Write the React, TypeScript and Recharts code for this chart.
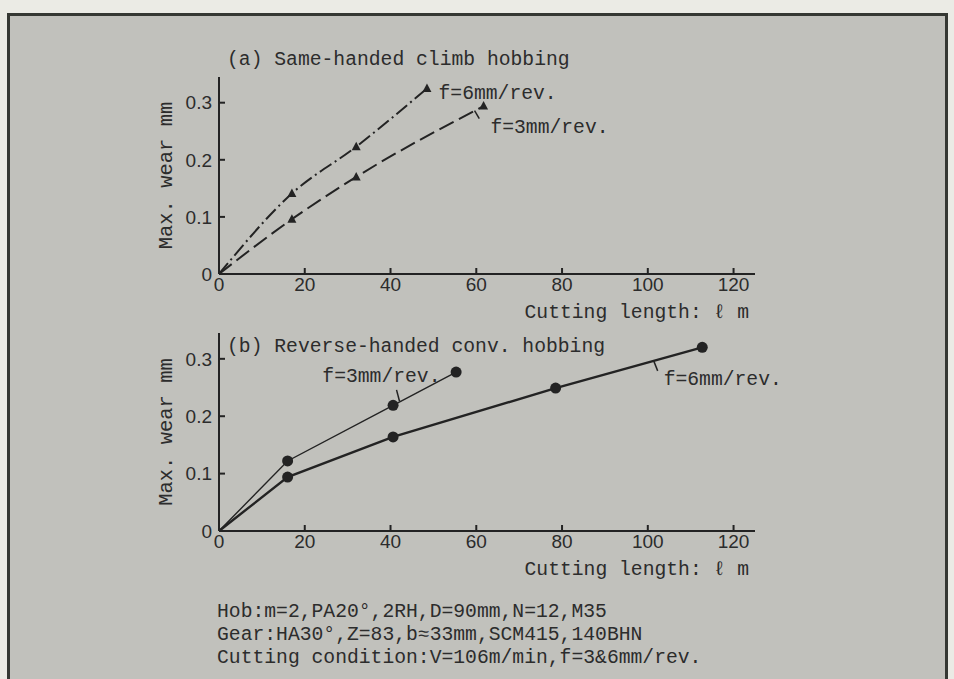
import React from "react";
import {
  Line,
  LineChart,
  ReferenceDot,
  ReferenceLine,
  XAxis,
  YAxis,
} from "recharts";

// (a) Same-handed climb hobbing — cutting length (m) / max. wear (mm)
const climb6X = [0, 17, 32, 48.5];
const climb6Y = [0, 0.141, 0.223, 0.325];
const climb3X = [0, 17, 32, 61.7];
const climb3Y = [0, 0.096, 0.17, 0.294];

// (b) Reverse-handed conventional hobbing
const conv3X = [0, 16, 40.6, 55.3];
const conv3Y = [0, 0.122, 0.219, 0.277];
const conv6X = [0, 16, 40.6, 78.5, 112.7];
const conv6Y = [0, 0.094, 0.164, 0.249, 0.32];

const xTicks = [0, 20, 40, 60, 80, 100, 120];
const yTicks = [0, 0.1, 0.2, 0.3];

const noteLines = [
  "Hob:m=2,PA20°,2RH,D=90mm,N=12,M35",
  "Gear:HA30°,Z=83,b≈33mm,SCM415,140BHN",
  "Cutting condition:V=106m/min,f=3&6mm/rev.",
];

const INK = "#232323";
const TEXT = "#2c2c2c";
const MONO = "'Liberation Mono', 'DejaVu Sans Mono', monospace";
const SANS = "'Liberation Sans', Arial, sans-serif";

const zip = (xs: number[], ys: number[]) => xs.map((x, i) => ({ x, y: ys[i] }));

const axisCommon = {
  stroke: INK,
  strokeWidth: 2,
  tickSize: -6,
  tick: { fill: TEXT, fontSize: 19, fontFamily: SANS },
};

const fmtY = (v: number) => (v === 0 ? "0" : v.toFixed(1));

function TriangleDot(props: any) {
  const { cx, cy, index } = props;
  if (index === 0 || cx == null) return <g key={`t-${index}`} />;
  return (
    <path
      key={`t-${index}`}
      d={`M${cx},${cy - 5} L${cx + 4.5},${cy + 3.5} L${cx - 4.5},${cy + 3.5} Z`}
      fill={INK}
    />
  );
}

function CircleDot(props: any) {
  const { cx, cy, index } = props;
  if (index === 0 || cx == null) return <g key={`c-${index}`} />;
  return <circle key={`c-${index}`} cx={cx} cy={cy} r={5.5} fill={INK} />;
}

const noteLabel = (value: string) => ({
  value,
  position: "right" as const,
  offset: 0,
  fill: TEXT,
  fontSize: 19.7,
  fontFamily: MONO,
});

const chartMargin = { top: 37, right: 45, left: 159, bottom: 6 };

function PanelAxes() {
  return [
    <XAxis
      key="x"
      type="number"
      dataKey="x"
      domain={[0, 125]}
      ticks={xTicks}
      allowDuplicatedCategory={false}
      height={50}
      tickMargin={10}
      {...axisCommon}
      label={{
        value: "Cutting length: ℓ m",
        position: "insideBottomRight",
        offset: 6,
        fill: TEXT,
        fontSize: 19.7,
        fontFamily: MONO,
      }}
    />,
    <YAxis
      key="y"
      type="number"
      dataKey="y"
      domain={[0, 0.345]}
      ticks={yTicks}
      tickFormatter={fmtY}
      width={60}
      tickMargin={13}
      {...axisCommon}
      label={{
        value: "Max. wear mm",
        angle: -90,
        position: "insideLeft",
        offset: 6,
        fill: TEXT,
        fontSize: 20.5,
        fontFamily: MONO,
        style: { textAnchor: "middle" },
      }}
    />,
  ];
}

const titleStyle: React.CSSProperties = {
  position: "absolute",
  left: 227,
  fontFamily: MONO,
  fontSize: 19.7,
  lineHeight: "22px",
  color: TEXT,
  whiteSpace: "pre",
};

export default function App() {
  return (
    <div
      style={{
        position: "absolute",
        left: 0,
        top: 0,
        width: 954,
        height: 679,
        overflow: "hidden",
        background: "#ebebe5",
      }}
    >
      <div
        style={{
          position: "absolute",
          left: 7,
          top: 13,
          width: 935,
          height: 700,
          border: "3px solid #353833",
          background: "#c1c1bc",
        }}
      />

      <div style={{ position: "absolute", left: 0, top: 40 }}>
        <LineChart width={800} height={290} margin={chartMargin}>
          {PanelAxes()}
          <Line
            data={zip(climb6X, climb6Y)}
            dataKey="y"
            type="monotone"
            stroke={INK}
            strokeWidth={2}
            strokeDasharray="14 4 2 4"
            dot={TriangleDot}
            activeDot={false}
            isAnimationActive={false}
          />
          <Line
            data={zip(climb3X, climb3Y)}
            dataKey="y"
            type="monotone"
            stroke={INK}
            strokeWidth={2}
            strokeDasharray="16 6"
            dot={TriangleDot}
            activeDot={false}
            isAnimationActive={false}
          />
          <ReferenceLine
            segment={[
              { x: 59.6, y: 0.286 },
              { x: 60.7, y: 0.272 },
            ]}
            stroke={INK}
            strokeWidth={1.5}
          />
          <ReferenceDot x={51.2} y={0.318} r={0} stroke="none" label={noteLabel("f=6mm/rev.")} />
          <ReferenceDot x={63.3} y={0.26} r={0} stroke="none" label={noteLabel("f=3mm/rev.")} />
        </LineChart>
      </div>

      <div style={{ position: "absolute", left: 0, top: 296 }}>
        <LineChart width={800} height={291} margin={chartMargin}>
          {PanelAxes()}
          <Line
            data={zip(conv3X, conv3Y)}
            dataKey="y"
            type="linear"
            stroke={INK}
            strokeWidth={1.4}
            dot={CircleDot}
            activeDot={false}
            isAnimationActive={false}
          />
          <Line
            data={zip(conv6X, conv6Y)}
            dataKey="y"
            type="linear"
            stroke={INK}
            strokeWidth={2.4}
            dot={CircleDot}
            activeDot={false}
            isAnimationActive={false}
          />
          <ReferenceLine
            segment={[
              { x: 41.4, y: 0.246 },
              { x: 42.1, y: 0.226 },
            ]}
            stroke={INK}
            strokeWidth={1.5}
          />
          <ReferenceLine
            segment={[
              { x: 101.4, y: 0.296 },
              { x: 102.3, y: 0.279 },
            ]}
            stroke={INK}
            strokeWidth={1.5}
          />
          <ReferenceDot x={24.1} y={0.272} r={0} stroke="none" label={noteLabel("f=3mm/rev.")} />
          <ReferenceDot x={103.7} y={0.267} r={0} stroke="none" label={noteLabel("f=6mm/rev.")} />
        </LineChart>
      </div>

      <div style={{ ...titleStyle, top: 49 }}>(a) Same-handed climb hobbing</div>
      <div style={{ ...titleStyle, top: 336 }}>(b) Reverse-handed conv. hobbing</div>

      <div
        style={{
          position: "absolute",
          left: 217,
          top: 601,
          fontFamily: MONO,
          fontSize: 19.7,
          lineHeight: "23px",
          color: TEXT,
          whiteSpace: "pre",
        }}
      >
        {noteLines.map((t) => (
          <div key={t}>{t}</div>
        ))}
      </div>
    </div>
  );
}
